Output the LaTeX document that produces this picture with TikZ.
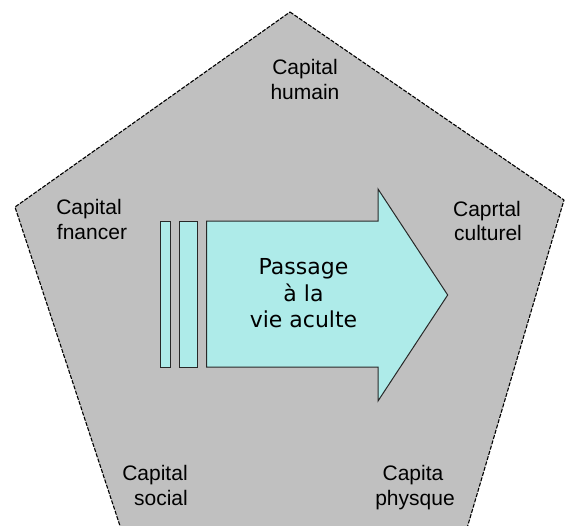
\documentclass[tikz,border=0pt]{standalone}
\usepackage{fontspec}
\setmainfont{Liberation Sans}
\newfontfamily\arrfont{DejaVu Sans}
\definecolor{pentgray}{RGB}{192,192,192}
\definecolor{arrcyan}{RGB}{174,235,233}
\definecolor{arredge}{RGB}{40,40,40}
\begin{document}
\begin{tikzpicture}[x=1pt,y=-1pt,
  pentagon/.style={fill=pentgray,draw=black,line width=1.1pt,dash pattern=on 4pt off 1.5pt,line join=round},
  arrowpart/.style={fill=arrcyan,draw=arredge,line width=1pt,line join=miter},
  lbl/.style={anchor=base,inner sep=0pt,font=\fontsize{21}{25}\selectfont},
  arrtxt/.style={anchor=base,inner sep=0pt,font=\arrfont\fontsize{22}{26}\selectfont}]
\useasboundingbox (0,0) rectangle (565,525);
\clip (0,0) rectangle (565,525);
\fill[white] (0,0) rectangle (565,525);
% pentagon
\draw[pentagon] (290,12) -- (564,200) -- (465,535) -- (123,535) -- (15,207) -- cycle;
% bars and arrow
\draw[arrowpart] (160.7,221) rectangle (170,367);
\draw[arrowpart] (179.3,221) rectangle (197,367);
\draw[arrowpart] (206.7,221) -- (378,221) -- (378,189) -- (447.7,295) -- (378,401) -- (378,367) -- (206.7,367) -- cycle;
% arrow text
\node[arrtxt] (pa1) at (303.5,274) {Passage};
\node[arrtxt] (pa2) at (303.5,301) {à la};
\node[arrtxt] (pa3) at (303.5,327) {vie aculte};
% labels
\node[lbl] (hu1) at (305,74) {Capital};
\node[lbl] (hu2) at (305,99) {humain};
\node[lbl] (fi1) at (89,214.5) {Capital};
\node[lbl] (fi2) at (92,239.5) {fnancer};
\node[lbl] (cu1) at (487,216) {Caprtal};
\node[lbl] (cu2) at (488,240) {culturel};
\node[lbl] (so1) at (155,480) {Capital};
\node[lbl] (so2) at (161,505) {social};
\node[lbl] (ph1) at (413,480) {Capita};
\node[lbl] (ph2) at (415,505) {physque};
\end{tikzpicture}
\end{document}
